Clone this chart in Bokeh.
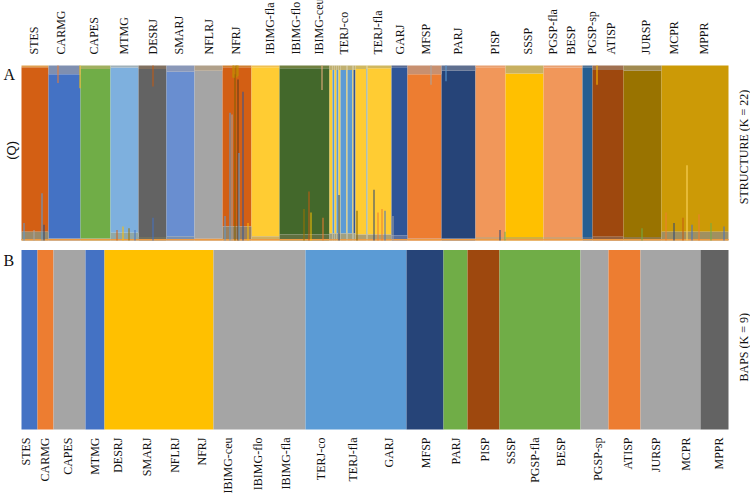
import numpy as np
from math import pi
from bokeh.plotting import figure
from bokeh.models import Range1d
from bokeh.core.properties import value
from bokeh.embed import file_html
from bokeh.resources import INLINE

# ---------------- STRUCTURE (K = 22) ----------------
# colour blocks along the individuals axis: number of individuals and majority cluster colour
Y = "#FFCC33"
LB = "#5B9BD5"
struct_block_n = [27, 32, 30, 28, 28, 28, 28, 29, 28, 50,
                  3, 2, 2, 2, 2, 6, 1, 5, 1, 2, 11, 1, 24,
                  16, 34, 34, 30, 38, 39, 10, 31, 38, 67]
struct_block_color = ["#D35F14", "#4472C4", "#70AD47", "#7EB0DE", "#636363", "#698ED0",
                      "#A5A5A5", "#D35F14", "#FFCC33", "#43682B",
                      Y, LB, Y, LB, Y, LB, Y, LB, Y, "#2F5597", Y, LB, Y,
                      "#2F5597", "#ED7D31", "#264478", "#F1975A", "#FFC000", "#F1975A",
                      "#255E91", "#9E480E", "#997300", "#CC9A06"]
# admixed share at the top and bottom of each block
struct_top_q = [0.01, 0.05, 0.02, 0.012, 0.02, 0.035, 0.03, 0.01, 0.01, 0.015,
                0.025, 0.025, 0.025, 0.025, 0.025, 0.025, 0.025, 0.025, 0.025, 0.025, 0.02, 0.02, 0.015,
                0.01, 0.05, 0.03, 0.01, 0.045, 0.012, 0.01, 0.025, 0.03, 0.0]
struct_top_color = ["#E0A050", "#7F8FB0", "#A0B060", "#A0B0B8", "#807060", "#8A98B8",
                    "#B0A08A", "#D08030", "#F0C050", "#708040",
                    "#C0B070", "#C0B070", "#C0B070", "#C0B070", "#C0B070", "#C0B070", "#C0B070",
                    "#C0B070", "#C0B070", "#C0B070", "#D0B860", "#D0B860", "#D0B860",
                    "#5A6A90", "#C89070", "#5F6F8F", "#E8A070", "#C8B060", "#E8A070",
                    "#50708F", "#A07050", "#A08A50", "#CC9A06"]
struct_bot_q = [0.05, 0.012, 0.012, 0.045, 0.02, 0.025, 0.012, 0.08, 0.025, 0.035,
                0.04, 0.04, 0.04, 0.04, 0.04, 0.04, 0.04, 0.04, 0.04, 0.04, 0.035, 0.035, 0.035,
                0.03, 0.012, 0.012, 0.02, 0.02, 0.02, 0.02, 0.022, 0.02, 0.05]
struct_bot_color = ["#9A8A6A", "#7A88A0", "#90A060", "#90A8A8", "#707060", "#7A90B0",
                    "#B09070", "#9A8060", "#D0B060", "#607040",
                    "#A0A080", "#A0A080", "#A0A080", "#A0A080", "#A0A080", "#A0A080", "#A0A080",
                    "#A0A080", "#A0A080", "#A0A080", "#B0A070", "#B0A070", "#B0A070",
                    "#5A70A0", "#D08050", "#506080", "#D0A070", "#D0B040", "#D0A070",
                    "#507090", "#906040", "#907840", "#A09060"]
struct_base_q = 0.008
struct_base_color = "#EE9A40"

# individuals with a large admixed share (from the bottom)
spike_idx = [2, 12, 20, 22, 95, 101, 107, 113, 131,
             203, 208, 210, 213, 216, 217, 221, 226,
             282, 287, 289, 301, 317, 335, 352, 356, 360, 363, 371,
             478, 483, 620,
             644, 652, 661, 665, 670, 677, 689, 702]
spike_q = [0.10, 0.06, 0.27, 0.09, 0.06, 0.08, 0.07, 0.06, 0.13,
           0.14, 0.73, 0.72, 0.95, 0.92, 0.50, 0.85, 0.10,
           0.18, 0.28, 0.16, 0.13, 0.26, 0.17, 0.29, 0.16, 0.18, 0.17, 0.14,
           0.06, 0.05, 0.07,
           0.16, 0.10, 0.13, 0.43, 0.09, 0.15, 0.10, 0.08]
spike_color = ["#5B9BD5", "#A5A5A5", "#5B9BD5", "#264478", "#D35F14", "#FFC000", "#997300", "#4472C4", "#4472C4",
               "#5B9BD5", "#5B9BD5", "#A5A5A5", "#7F6000", "#5B3A1A", "#5B9BD5", "#2F5597", "#FFC000",
               "#997300", "#C55A11", "#FFC000", "#ED7D31", "#264478", "#7F6000", "#264478", "#ED7D31",
               "#ED7D31", "#4472C4", "#A5A5A5",
               "#264478", "#70AD47", "#70AD47",
               "#ED7D31", "#264478", "#C55A11", "#FFD966", "#4472C4", "#ED7D31", "#70AD47", "#4472C4"]
# individuals with an admixed share at the top
tspike_idx = [36, 58, 131, 211, 212, 214, 215, 216, 300, 409, 424, 575]
tspike_q = [0.90, 0.87, 0.88, 0.93, 0.93, 0.94, 0.93, 0.94, 0.86, 0.89, 0.91, 0.89]
tspike_color = ["#ED7D31", "#FFC000", "#C55A11", "#BF9000", "#BF9000", "#997300", "#BF9000",
                "#BF9000", "#F4B183", "#A5A5A5", "#5B9BD5", "#FFC000"]

top_labels = ["STES", "CARMG", "CAPES", "MTMG", "DESRJ", "SMARJ", "NFLRJ", "NFRJ",
              "IBIMG-fla", "IBIMG-flo", "IBIMG-ceu", "TERJ-co", "TERJ-fla", "GARJ", "MFSP",
              "PARJ", "PISP", "SSSP", "PGSP-fla", "BESP", "PGSP-sp", "ATISP", "JURSP", "MCPR", "MPPR"]
top_label_pos = [12, 39, 72, 102, 131, 157, 187, 214, 248, 274, 297, 322, 356, 378, 404,
                 436, 473, 506, 531, 549, 570, 589, 624, 652, 682]

# ---------------- BAPS (K = 9) ----------------
baps_n = [16, 16, 32, 19, 109, 92, 101, 37, 24, 32, 81, 28, 32, 60, 28]
baps_cluster = [1, 2, 3, 1, 4, 3, 5, 6, 7, 8, 7, 3, 2, 3, 9]
baps_palette = {1: "#4472C4", 2: "#ED7D31", 3: "#A5A5A5", 4: "#FFC000", 5: "#5B9BD5",
                6: "#264478", 7: "#70AD47", 8: "#9E480E", 9: "#636363"}
bottom_labels = ["STES", "CARMG", "CAPES", "MTMG", "DESRJ", "SMARJ", "NFLRJ", "NFRJ",
                 "IBIMG-ceu", "IBIMG-flo", "IBIMG-fla", "TERJ-co", "TERJ-fla", "GARJ", "MFSP",
                 "PARJ", "PISP", "SSSP", "PGSP-fla", "BESP", "PGSP-sp", "ATISP", "JURSP", "MCPR", "MPPR"]
bottom_label_pos = [4, 23, 46, 73, 96, 125, 153, 180, 206, 236, 264, 299, 331, 367, 404,
                    434, 463, 489, 513, 539, 576, 606, 634, 664, 697]

N = int(sum(struct_block_n))
SERIF = "Liberation Serif"
TXT = "#111111"

# ---- layout (pixels of the 750 x 494 canvas)
W, H = 750, 494
X0 = 21                      # left edge of both panels
A_TOP, A_BOT = 65.0, 240.0   # panel A frame
B_TOP, B_BOT = 249.5, 429.0  # panel B frame
a_h = A_BOT - A_TOP
b_h = B_BOT - B_TOP


def spans(ns):
    e = np.cumsum(ns)
    return e - np.array(ns), e


p = figure(width=W, height=H, output_backend="svg", toolbar_location=None,
           x_range=Range1d(-X0, W - X0),
           y_range=Range1d((A_BOT - H) / a_h, A_BOT / a_h),
           x_axis_location=None, y_axis_location=None,
           min_border_left=0, min_border_right=0, min_border_top=0, min_border_bottom=0)
p.extra_y_ranges = {"B": Range1d((B_BOT - H) / b_h, B_BOT / b_h)}
p.outline_line_color = None
p.grid.visible = False

# ---- panel A: STRUCTURE bar plot
s, e = spans(struct_block_n)
tq = np.array(struct_top_q)
bq = np.array(struct_bot_q)
p.quad(left=s, right=e, bottom=bq, top=1 - tq, fill_color=struct_block_color, line_color=None)
p.quad(left=s, right=e, bottom=1 - tq, top=1, fill_color=struct_top_color, line_color=None)
p.quad(left=s, right=e, bottom=0, top=bq, fill_color=struct_bot_color, line_color=None)
p.quad(left=s, right=e, bottom=0, top=struct_base_q, fill_color=struct_base_color, line_color=None)
si = np.array(spike_idx)
p.quad(left=si, right=si + 1, bottom=0, top=spike_q, fill_color=spike_color, line_color=None)
ti = np.array(tspike_idx)
p.quad(left=ti, right=ti + 1, bottom=tspike_q, top=1, fill_color=tspike_color, line_color=None)

# ---- panel B: BAPS
bs, be = spans(baps_n)
p.quad(left=bs, right=be, bottom=0, top=1, y_range_name="B",
       fill_color=[baps_palette[c] for c in baps_cluster], line_color=None)

# ---- population labels
p.text(x=top_label_pos, y=[1 + 11 / a_h] * len(top_label_pos), text=top_labels,
       angle=pi / 2, text_align="left", text_baseline="middle",
       text_font=value(SERIF), text_font_size="12px", text_color=TXT)
p.text(x=bottom_label_pos, y=[-8 / b_h] * len(bottom_label_pos), text=bottom_labels,
       y_range_name="B", angle=pi / 2, text_align="right", text_baseline="middle",
       text_font=value(SERIF), text_font_size="12px", text_color=TXT)

# ---- panel letters and side titles
p.text(x=[-18], y=[1 - 9 / a_h], text=["A"], text_align="left", text_baseline="middle",
       text_font=value(SERIF), text_font_size="16px", text_color=TXT)
p.text(x=[-18], y=[1 - 10.5 / b_h], text=["B"], y_range_name="B", text_align="left",
       text_baseline="middle", text_font=value(SERIF), text_font_size="16px", text_color=TXT)
p.text(x=[-10], y=[0.515], text=["(Q)"], angle=pi / 2, text_align="center",
       text_baseline="middle", text_font=value("Liberation Sans"), text_font_size="13px",
       text_color=TXT)
p.text(x=[722], y=[0.534], text=["STRUCTURE (K = 22)"], angle=pi / 2, text_align="center",
       text_baseline="middle", text_font=value(SERIF), text_font_size="12px", text_color=TXT)
p.text(x=[722], y=[0.458], text=["BAPS (K = 9)"], y_range_name="B", angle=pi / 2,
       text_align="center", text_baseline="middle", text_font=value(SERIF),
       text_font_size="12px", text_color=TXT)

open("out.html", "w").write(file_html(p, INLINE))
